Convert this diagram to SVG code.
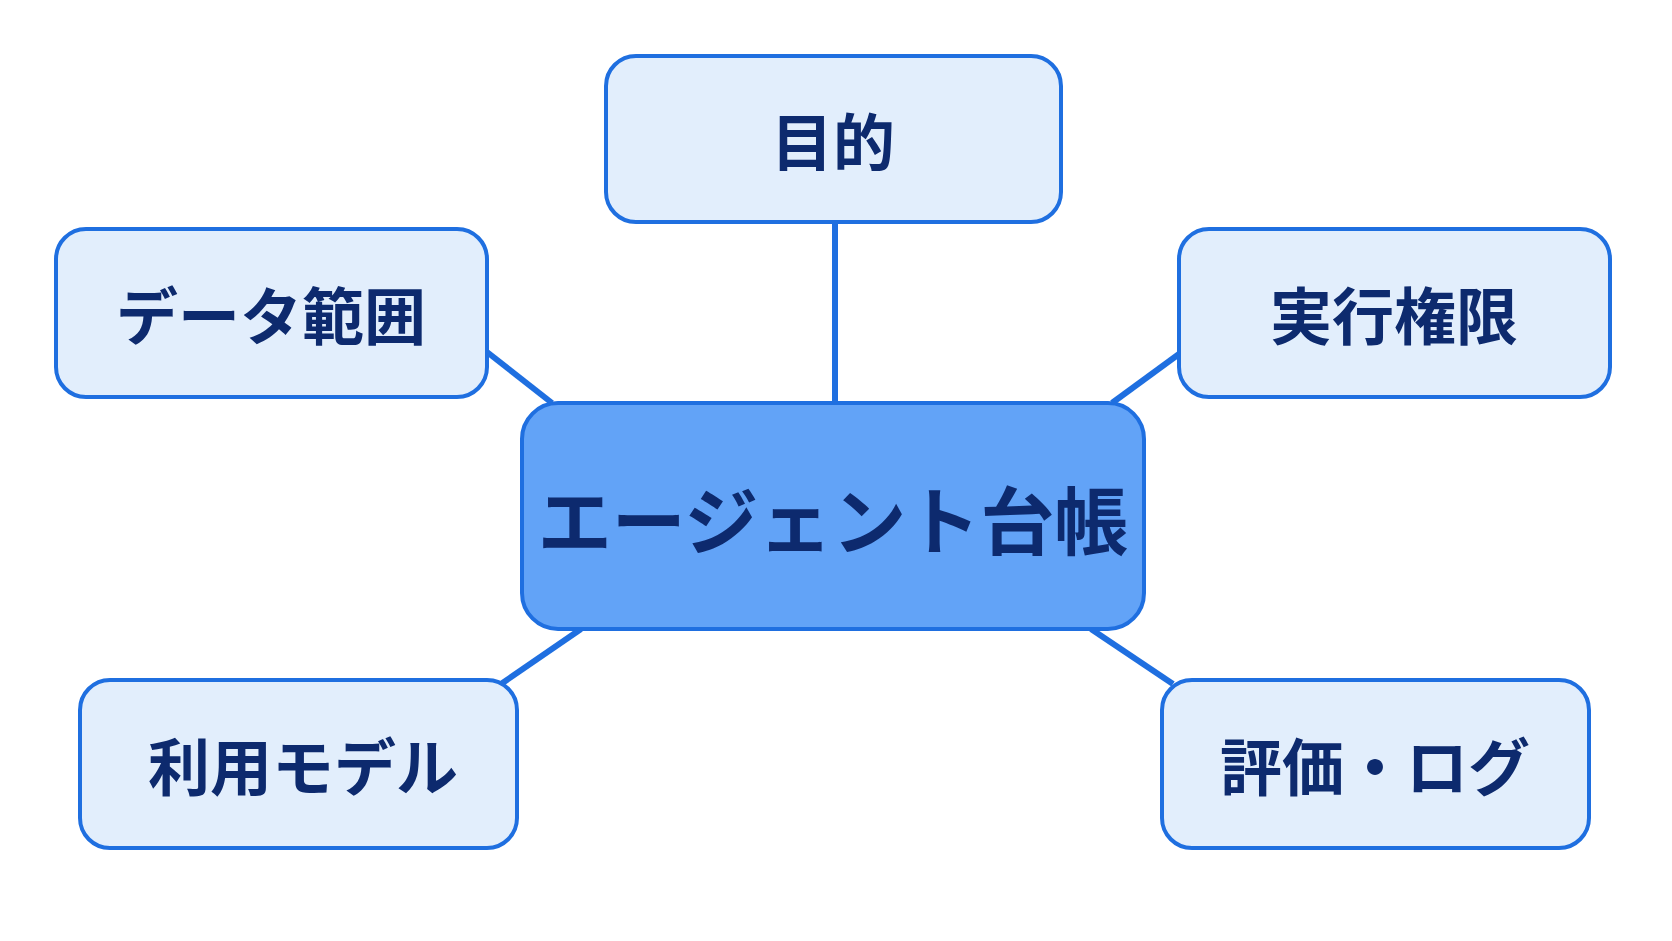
<svg xmlns="http://www.w3.org/2000/svg" width="1672" height="941" viewBox="0 0 1672 941">
<style>
.n{fill:#e2eefc;stroke:#1f6fe0;stroke-width:4}
.c{fill:#62a3f7;stroke:#1f6fe0;stroke-width:4}
.t{font-family:"Noto Sans CJK JP",sans-serif;font-weight:bold;fill:#0d2a6e;text-anchor:middle;dominant-baseline:central;font-size:62px}
.e{stroke:#1f6fe0;stroke-width:6;fill:none}
</style>
<rect width="1672" height="941" fill="#fff"/>
<g id="connectors">
<line class="e" x1="835" y1="222" x2="835" y2="403"/>
<line class="e" x1="487" y1="352" x2="552" y2="403"/>
<line class="e" x1="1179" y1="354" x2="1112" y2="403"/>
<line class="e" x1="581" y1="629" x2="501" y2="684"/>
<line class="e" x1="1091" y1="629" x2="1173" y2="684"/>
</g>
<g id="center"><rect class="c" x="522" y="403" width="622" height="226" rx="36"/><text class="t" x="833" y="516" font-size="74" style="font-size:74px">エージェント台帳</text></g>
<g id="purpose"><rect class="n" x="606" y="56" width="455" height="166" rx="30"/><text class="t" x="833" y="139">目的</text></g>
<g id="data"><rect class="n" x="56" y="229" width="431" height="168" rx="30"/><text class="t" x="271" y="313">データ範囲</text></g>
<g id="exec"><rect class="n" x="1179" y="229" width="431" height="168" rx="30"/><text class="t" x="1394" y="313">実行権限</text></g>
<g id="usage"><rect class="n" x="80" y="680" width="437" height="168" rx="30"/><text class="t" x="303" y="764">利用モデル</text></g>
<g id="eval"><rect class="n" x="1162" y="680" width="427" height="168" rx="30"/><text class="t" x="1375" y="764">評価・ログ</text></g>
</svg>
